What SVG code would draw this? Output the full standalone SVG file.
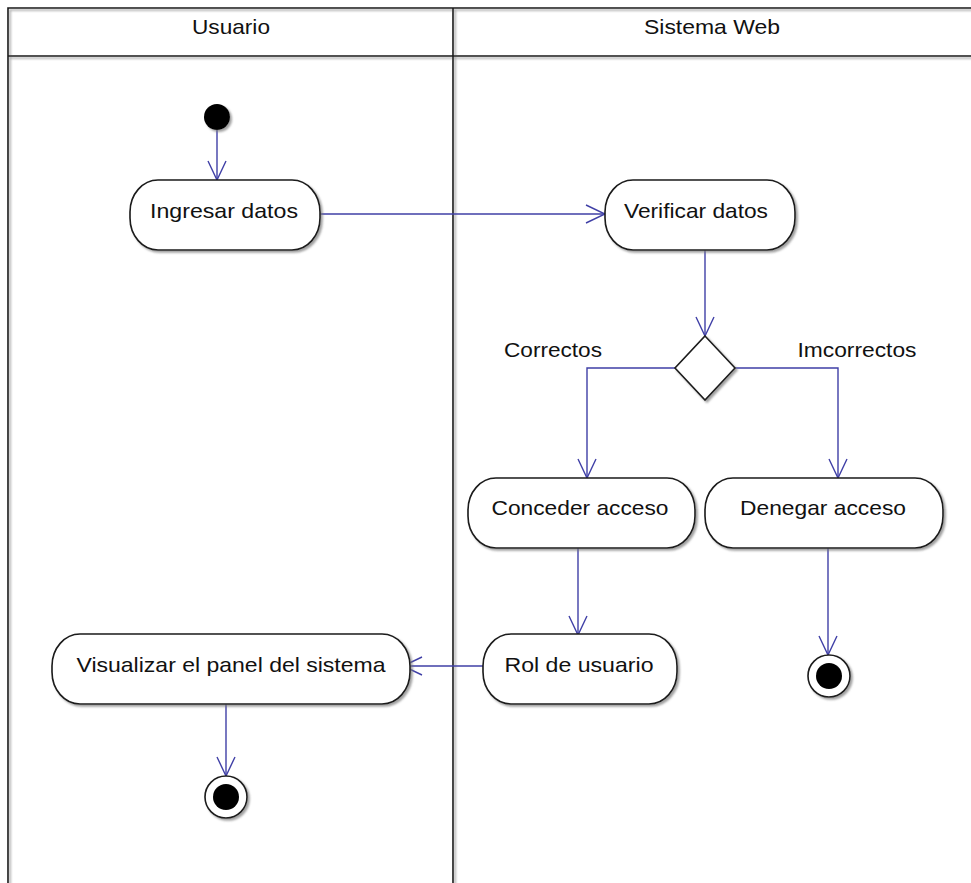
<svg xmlns="http://www.w3.org/2000/svg" width="971" height="883" viewBox="0 0 971 883">
  <style>
    .lane { fill: none; stroke: #1a1a1a; stroke-width: 1.6; }
    .act { fill: #ffffff; stroke: #1a1a1a; stroke-width: 1.6; }
    .lbl { font-family: "Liberation Sans", Arial, sans-serif; font-size: 21px; fill: #111; }
    .flow { fill: none; stroke: #3f3fa6; stroke-width: 1.4; }
  </style>
  <defs>
    <filter id="shadow" x="-10%" y="-10%" width="130%" height="140%">
      <feDropShadow dx="2" dy="2" stdDeviation="1" flood-color="#777" flood-opacity="0.7"/>
    </filter>
    <marker id="open" viewBox="0 0 20 20" refX="20" refY="10" markerWidth="20" markerHeight="20" markerUnits="userSpaceOnUse" orient="auto">
      <path d="M1,1 L20,10 L1,19" fill="none" stroke="#3f3fa6" stroke-width="1.4"/>
    </marker>
  </defs>

  <rect width="971" height="883" fill="#ffffff"/>

  <!-- swimlanes -->
  <g id="lanes">
    <g filter="url(#shadow)">
      <path class="lane" d="M8,883 V8 H975"/>
      <path class="lane" d="M8,56 H975"/>
      <path class="lane" d="M453,8 V883"/>
    </g>
    <text class="lbl" x="231" y="34" text-anchor="middle" textLength="78" lengthAdjust="spacingAndGlyphs">Usuario</text>
    <text class="lbl" x="712" y="34" text-anchor="middle" textLength="136" lengthAdjust="spacingAndGlyphs">Sistema Web</text>
  </g>

  <!-- connectors -->
  <g id="connectors">
    <path class="flow" d="M217,130 V180" marker-end="url(#open)"/>
    <path class="flow" d="M320,214 H605" marker-end="url(#open)"/>
    <path class="flow" d="M705,250 V336" marker-end="url(#open)"/>
    <path class="flow" d="M675,368 H587 V478" marker-end="url(#open)"/>
    <path class="flow" d="M735,368 H838 V478" marker-end="url(#open)"/>
    <path class="flow" d="M578,548 V635" marker-end="url(#open)"/>
    <path class="flow" d="M483,666 H403" marker-end="url(#open)"/>
    <path class="flow" d="M226,704 V776" marker-end="url(#open)"/>
    <path class="flow" d="M828,548 V655" marker-end="url(#open)"/>
    <text class="lbl" x="553" y="357" text-anchor="middle" textLength="98" lengthAdjust="spacingAndGlyphs">Correctos</text>
    <text class="lbl" x="857" y="357" text-anchor="middle" textLength="119" lengthAdjust="spacingAndGlyphs">Imcorrectos</text>
  </g>

  <!-- start -->
  <g id="inicio" filter="url(#shadow)">
    <circle cx="217" cy="117" r="13" fill="#000"/>
  </g>

  <g id="ingresar-datos">
    <rect class="act" x="130" y="180" width="190" height="70" rx="28" ry="32" filter="url(#shadow)"/>
    <text class="lbl" x="224" y="218" text-anchor="middle" textLength="148" lengthAdjust="spacingAndGlyphs">Ingresar datos</text>
  </g>

  <g id="verificar-datos">
    <rect class="act" x="605" y="180" width="190" height="70" rx="28" ry="32" filter="url(#shadow)"/>
    <text class="lbl" x="696" y="218" text-anchor="middle" textLength="144" lengthAdjust="spacingAndGlyphs">Verificar datos</text>
  </g>

  <g id="decision">
    <polygon class="act" points="705,336 735,368 705,400 675,368" filter="url(#shadow)"/>
  </g>

  <g id="conceder-acceso">
    <rect class="act" x="468" y="478" width="227" height="70" rx="28" ry="32" filter="url(#shadow)"/>
    <text class="lbl" x="580" y="515" text-anchor="middle" textLength="177" lengthAdjust="spacingAndGlyphs">Conceder acceso</text>
  </g>

  <g id="denegar-acceso">
    <rect class="act" x="705" y="478" width="238" height="70" rx="28" ry="32" filter="url(#shadow)"/>
    <text class="lbl" x="823" y="515" text-anchor="middle" textLength="166" lengthAdjust="spacingAndGlyphs">Denegar acceso</text>
  </g>

  <g id="rol-usuario">
    <rect class="act" x="483" y="634" width="194" height="70" rx="28" ry="32" filter="url(#shadow)"/>
    <text class="lbl" x="579" y="672" text-anchor="middle" textLength="149" lengthAdjust="spacingAndGlyphs">Rol de usuario</text>
  </g>

  <g id="visualizar-panel">
    <rect class="act" x="52" y="634" width="358" height="70" rx="28" ry="32" filter="url(#shadow)"/>
    <text class="lbl" x="231" y="672" text-anchor="middle" textLength="309" lengthAdjust="spacingAndGlyphs">Visualizar el panel del sistema</text>
  </g>

  <!-- final states -->
  <g id="fin-usuario" filter="url(#shadow)">
    <circle cx="226" cy="797" r="21" fill="#fff" stroke="#1a1a1a" stroke-width="1.6"/>
    <circle cx="226" cy="797" r="13" fill="#000"/>
  </g>

  <g id="fin-sistema" filter="url(#shadow)">
    <circle cx="829" cy="676" r="21" fill="#fff" stroke="#1a1a1a" stroke-width="1.6"/>
    <circle cx="829" cy="676" r="13" fill="#000"/>
  </g>
</svg>
